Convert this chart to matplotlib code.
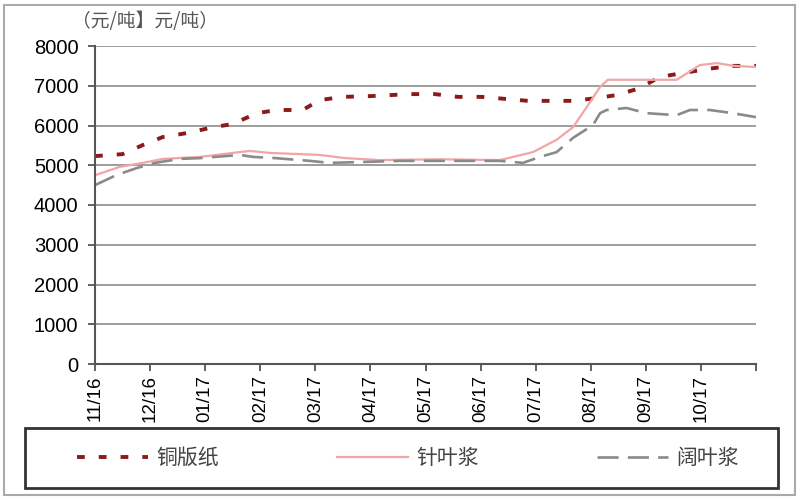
import matplotlib
matplotlib.use("Agg")
import matplotlib.pyplot as plt
from matplotlib.patches import Rectangle

plt.rcParams["font.family"] = ["Liberation Sans", "Noto Sans CJK SC", "DejaVu Sans"]

# month index: 0 = 11/16, 12 = 11/17
month_labels = ["11/16", "12/16", "01/17", "02/17", "03/17", "04/17", "05/17",
                "06/17", "07/17", "08/17", "09/17", "10/17", ""]
series_names = ["铜版纸", "针叶浆", "阔叶浆"]
unit_label = "（元/吨】元/吨）"

# 铜版纸 (coated paper)
coated_x = [0.0, 0.5, 0.87, 1.23, 1.67, 2.09, 2.5, 2.94, 3.3, 3.77, 4.08, 4.5,
            5.0, 5.72, 6.17, 6.59, 7.02, 7.44, 7.86, 8.26, 8.68, 9.11, 9.49,
            9.89, 10.25, 10.67, 11.11, 11.52, 12.0]
coated_y = [5230, 5280, 5510, 5710, 5810, 5940, 6040, 6310, 6390, 6390, 6640, 6720,
            6740, 6790, 6790, 6720, 6720, 6670, 6620, 6620, 6620, 6690, 6770,
            6940, 7220, 7320, 7420, 7500, 7500]

# 针叶浆 (softwood pulp)
soft_x = [0.0, 0.45, 0.87, 1.23, 1.91, 2.5, 2.81, 3.18, 3.72, 4.08, 4.54, 5.17,
          6.26, 7.35, 7.95, 8.38, 8.68, 8.93, 9.17, 9.31, 10.56, 10.98, 11.29,
          11.6, 12.0]
soft_y = [4750, 4960, 5060, 5160, 5210, 5310, 5360, 5310, 5280, 5260, 5180, 5130,
          5150, 5130, 5330, 5640, 5960, 6470, 6970, 7150, 7150, 7520, 7570,
          7500, 7470]

# 阔叶浆 (hardwood pulp)
hard_x = [0.0, 0.4, 0.76, 1.09, 1.54, 1.91, 2.63, 2.87, 3.27, 3.9, 4.26, 4.81,
          5.54, 7.35, 7.77, 8.08, 8.38, 8.68, 9.04, 9.17, 9.29, 9.65, 10.01,
          10.56, 10.8, 11.16, 11.58, 12.0]
hard_y = [4500, 4760, 4930, 5060, 5160, 5180, 5260, 5210, 5180, 5110, 5060, 5080,
          5110, 5110, 5060, 5210, 5330, 5690, 6010, 6310, 6390, 6440, 6310,
          6260, 6390, 6390, 6310, 6210]

fig = plt.figure(figsize=(8, 5), dpi=100)
ax = fig.add_axes([95 / 800, 1 - 364 / 500, 661 / 800, 318 / 500])

l1, = ax.plot(coated_x, coated_y, color="#8b1a1a", lw=2.8,
              linestyle=(0, (2.0, 3.6)), dash_capstyle="butt")
l2, = ax.plot(soft_x, soft_y, color="#f2a5a5", lw=1.6)
l3, = ax.plot(hard_x, hard_y, color="#8a8a8a", lw=1.9, linestyle=(0, (8, 3.5)))

ax.set_xlim(0, 12)
ax.set_ylim(0, 8000)
ax.set_xticks(range(13))
ax.set_xticklabels(month_labels, rotation=90, fontsize=13.5)
ax.set_yticks(range(0, 8001, 1000))
ax.tick_params(axis="y", labelsize=14.5, length=5, width=1.3, color="#555555", pad=7)
ax.tick_params(axis="x", length=5, width=1.3, color="#555555", pad=3)
ax.grid(axis="y", color="#8c8c8c", lw=1.2)
ax.set_axisbelow(True)
for s in ["top", "right"]:
    ax.spines[s].set_visible(False)
for s in ["left", "bottom"]:
    ax.spines[s].set_color("#555555")
    ax.spines[s].set_linewidth(1.5)

fig.text(72 / 800, 1 - 22 / 500, unit_label, fontsize=13.5, color="#555555",
         va="center", family=["Noto Sans CJK SC", "DejaVu Sans"])

# legend box
fig.add_artist(Rectangle((25 / 800, 1 - 488 / 500), 753 / 800, 60 / 500,
                         transform=fig.transFigure, fill=False,
                         edgecolor="#333333", lw=2))
fig.legend([l1, l2, l3], series_names, loc="center", ncol=3, mode="expand",
           bbox_to_anchor=(58 / 800, 1 - 488 / 500, 700 / 800, 60 / 500),
           frameon=False, handlelength=3.4, handletextpad=0.4,
           prop={"family": ["Noto Sans CJK SC", "DejaVu Sans"], "size": 15},
           labelcolor="#444444")

# outer border
fig.add_artist(Rectangle((4 / 800, 5 / 500), 791 / 800, 490 / 500,
                         transform=fig.transFigure, fill=False,
                         edgecolor="#aaaaaa", lw=1.5))

fig.savefig("out.png", dpi=100)
